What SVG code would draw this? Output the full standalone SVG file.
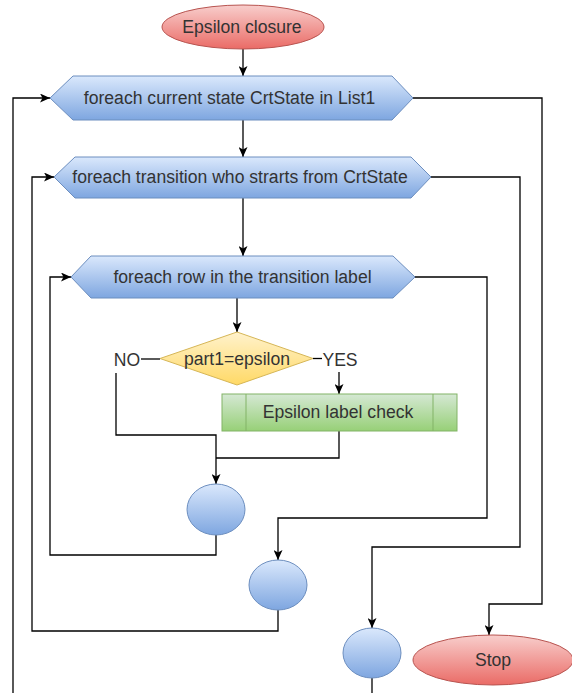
<svg xmlns="http://www.w3.org/2000/svg" width="572" height="693" viewBox="0 0 572 693">
<defs>
<linearGradient id="gBlue" x1="0" y1="0" x2="0" y2="1"><stop offset="0" stop-color="#dae8fc"/><stop offset="1" stop-color="#7ea6e0"/></linearGradient>
<linearGradient id="gRed" x1="0" y1="0" x2="0" y2="1"><stop offset="0" stop-color="#f8cecc"/><stop offset="1" stop-color="#ea6b66"/></linearGradient>
<linearGradient id="gYellow" x1="0" y1="0" x2="0" y2="1"><stop offset="0" stop-color="#fff2cc"/><stop offset="1" stop-color="#ffd966"/></linearGradient>
<linearGradient id="gGreen" x1="0" y1="0" x2="0" y2="1"><stop offset="0" stop-color="#d5e8d4"/><stop offset="1" stop-color="#97d077"/></linearGradient>
<marker id="arr" markerUnits="userSpaceOnUse" markerWidth="10" markerHeight="9" refX="10" refY="4.5" orient="auto"><path d="M0,0 L10,4.5 L0,9 L2.5,4.5 Z" fill="#000"/></marker>
</defs>
<style>
text{font-family:"Liberation Sans",Arial,sans-serif;font-size:17.6px;fill:#333;text-anchor:middle}
.blue{fill:url(#gBlue);stroke:#6c8ebf;stroke-width:1}
.red{fill:url(#gRed);stroke:#b85450;stroke-width:1}
.yel{fill:url(#gYellow);stroke:#d6b656;stroke-width:1}
.grn{fill:url(#gGreen);stroke:#82b366;stroke-width:1}
.c{fill:none;stroke:#000;stroke-width:1.3}
.a{marker-end:url(#arr)}
</style>
<g id="connectors">
<path class="c a" d="M243 49 V76"/>
<path class="c a" d="M243 120 V157"/>
<path class="c a" d="M243 198 V256"/>
<path class="c a" d="M237 298 V332"/>
<path class="c" d="M160 359 H141"/>
<path class="c a" d="M116 373 V435 H216 V484"/>
<path class="c" d="M313 358.5 H322"/>
<path class="c a" d="M339 372 V394"/>
<path class="c" d="M339 431 V458 H216"/>
<path class="c a" d="M216 535 V555 H50 V277 H71"/>
<path class="c a" d="M415 277 H487 V518 H278 V560"/>
<path class="c a" d="M278 610 V631 H32 V177 H54"/>
<path class="c a" d="M431 177 H520 V547 H372 V628"/>
<path class="c" d="M372 678 V693"/>
<path class="c a" d="M13 693 V98 H50"/>
<path class="c a" d="M413 98 H542 V604 H489 V635"/>
</g>
<g id="start"><ellipse class="red" cx="243" cy="27" rx="81" ry="22"/><text x="242" y="33">Epsilon closure</text></g>
<g id="loop1"><polygon class="blue" points="50,98 73,76 392,76 413,98 392,120 73,120"/><text x="229.5" y="104">foreach current state CrtState in List1</text></g>
<g id="loop2"><polygon class="blue" points="54,177 75,157 411,157 431,177 411,198 75,198"/><text x="240" y="183">foreach transition who strarts from CrtState</text></g>
<g id="loop3"><polygon class="blue" points="71,277 91,256 393,256 415,277 393,298 91,298"/><text x="242.5" y="283">foreach row in the transition label</text></g>
<g id="decision"><polygon class="yel" points="237,332 313,358.5 237,385 160,358.5"/><text x="237" y="364.5">part1=epsilon</text></g>
<g id="noLabel"><text x="127" y="366">NO</text></g>
<g id="yesLabel"><text x="340" y="366">YES</text></g>
<g id="process"><rect class="grn" x="222" y="394" width="235" height="37"/><line class="grn" x1="246" y1="394" x2="246" y2="431"/><line class="grn" x1="433" y1="394" x2="433" y2="431"/><text x="338" y="418">Epsilon label check</text></g>
<g id="end3"><ellipse class="blue" cx="216" cy="509.5" rx="29" ry="25.5"/></g>
<g id="end2"><ellipse class="blue" cx="278" cy="585" rx="29" ry="25"/></g>
<g id="end1"><ellipse class="blue" cx="372" cy="653" rx="29" ry="25"/></g>
<g id="stop"><ellipse class="red" cx="493" cy="660" rx="80" ry="25"/><text x="493" y="666">Stop</text></g>
</svg>
